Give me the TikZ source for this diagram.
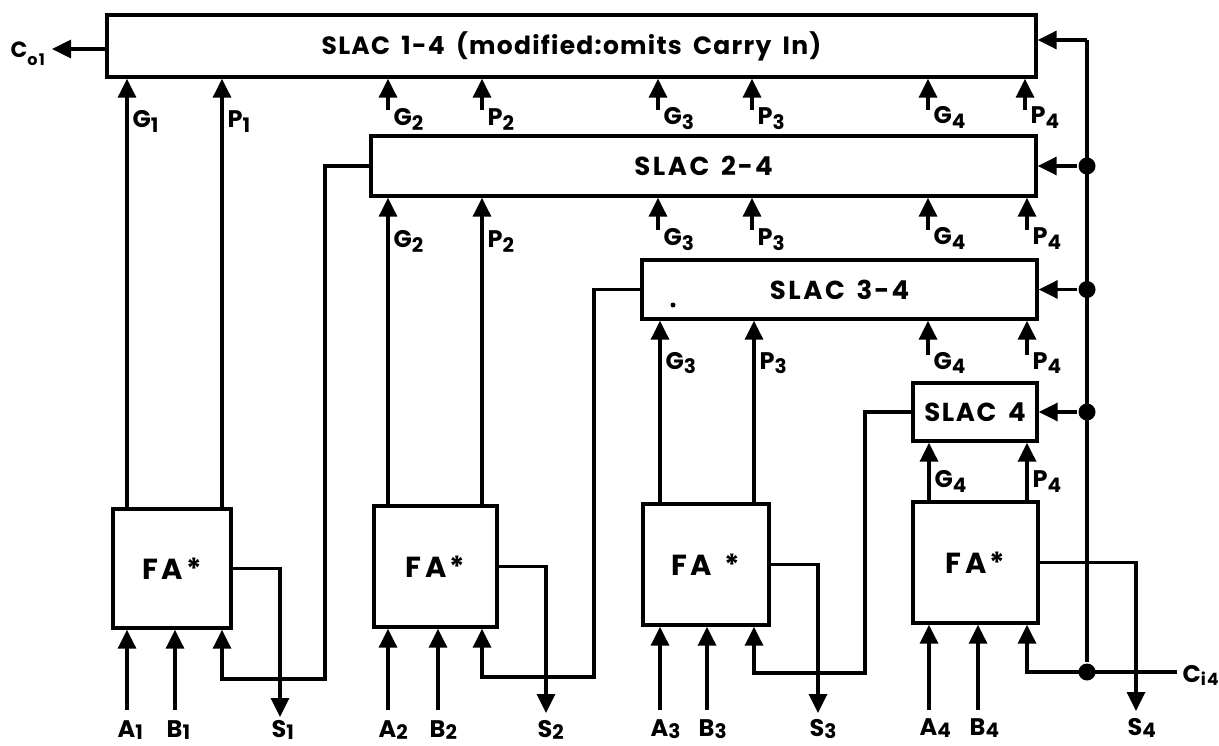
\documentclass[tikz,border=0pt]{standalone}
\usepackage{fontspec}
\setmainfont{Poppins}[LetterSpace=7]
\usetikzlibrary{arrows.meta}
\newcommand{\lsub}[2]{#1\raisebox{-5pt}{\fontsize{20}{20}\selectfont #2}}
\newcommand{\bsub}[2]{#1\raisebox{-2pt}{\fontsize{20}{20}\selectfont #2}}
\newcommand{\wide}[1]{\addfontfeature{LetterSpace=#1}\spaceskip=0.45em\relax}
\newcommand{\hy}{\kern2pt-\kern2pt}
\begin{document}
\begin{tikzpicture}[x=1pt,y=-1pt,line width=3.4pt,
  box/.style={draw,rectangle,line width=3.4pt,inner sep=0pt,font=\bfseries\fontsize{26}{26}\selectfont},
  fabox/.style={box,font=\bfseries\fontsize{29}{29}\selectfont\wide{11}},
  arr/.style={-{Triangle[length=19pt,width=18pt]}},
  junc/.style={circle,fill,inner sep=0pt,minimum size=17pt},
  lbl/.style={font=\bfseries\fontsize{24}{24}\selectfont,inner sep=0pt}]
\useasboundingbox (0,0) rectangle (1219,746);
% boxes
\node[box,minimum width=929pt,minimum height=62pt] (s14) at (571.5,46) {\fontsize{25}{25}\selectfont\wide{5}SLAC 1-4 (modified:omits Carry In)};
\node[box,minimum width=665pt,minimum height=60pt] (s24) at (703.5,166) {\wide{10}SLAC 2\hy4};
\node[box,minimum width=395pt,minimum height=59pt] (s34) at (839.5,289.5) {\wide{10}SLAC 3\hy4};
\node[box,minimum width=124pt,minimum height=58pt] (s4) at (975,412) {\wide{6}SLAC 4};
\node[fabox,minimum width=118pt,minimum height=119pt] (fa1) at (172,568.5) {FA*};
\node[fabox,minimum width=123pt,minimum height=121pt] (fa2) at (435.5,566.5) {FA*};
\node[fabox,minimum width=126pt,minimum height=121pt] (fa3) at (706,564.5) {FA *};
\node[fabox,minimum width=125pt,minimum height=121pt] (fa4) at (975.5,562.5) {FA*};
\fill (673,305) circle (2.5pt);
% coordinates
\coordinate (a1) at (127,710); \coordinate (b1) at (175,710);
\coordinate (a2) at (388,710); \coordinate (b2) at (438,710);
\coordinate (a3) at (660,710); \coordinate (b3) at (707,710);
\coordinate (a4) at (929,710); \coordinate (b4) at (978,710);
\coordinate (k1) at (325,679); \coordinate (c1) at (222,679);
\coordinate (k2) at (594,677); \coordinate (c2) at (482,677);
\coordinate (k3) at (865,673); \coordinate (c3) at (754,673);
\coordinate (c4) at (1027,672);
\coordinate (s1) at (280,717); \coordinate (s2) at (546,713);
\coordinate (s3) at (818,713); \coordinate (s4o) at (1136,711);
\coordinate (ci4) at (1177,672);
\coordinate (bustop) at (1087,40);
\coordinate (co1) at (52,49);
\node[junc] (j24) at (1087,166) {};
\node[junc] (j34) at (1087,289.5) {};
\node[junc] (j4) at (1087,412) {};
\node[junc] (jb) at (1087,672) {};
% stubs
\coordinate (t1) at (388,110); \coordinate (t2) at (482,110);
\coordinate (t3) at (658,110); \coordinate (t4) at (752,110);
\coordinate (t5) at (928,110); \coordinate (t6) at (1025,110);
\coordinate (u1) at (658,230); \coordinate (u2) at (752,230);
\coordinate (u3) at (928,230); \coordinate (u4) at (1027,230);
\coordinate (v1) at (928,355); \coordinate (v2) at (1027,355);
% carry out
\draw[arr] (s14.west |- co1) -- (co1);
\node[lbl,anchor=base west] (co1l) at (9,58) {\fontsize{22}{22}\selectfont C\raisebox{-8pt}{\fontsize{16}{16}\selectfont o1}};
% carry bus
\draw (jb) -- (bustop);
\draw[arr] (bustop) -- (bustop -| s14.east);
\draw[arr] (j24) -- (s24.east);
\draw[arr] (j34) -- (s34.east);
\draw[arr] (j4) -- (s4.east);
\draw[arr] (ci4) -- (c4) -- (c4 |- fa4.south);
\node[lbl,anchor=base west] (ci4l) at (1181,682) {C\raisebox{-3pt}{\fontsize{17}{17}\selectfont i4}};
% carries into FA1..FA3
\draw[arr] (s24.west) -| (k1) -- (c1) -- (c1 |- fa1.south);
\draw[arr] (s34.west) -| (k2) -- (c2) -- (c2 |- fa2.south);
\draw[arr] (s4.west) -| (k3) -- (c3) -- (c3 |- fa3.south);
% sums
\draw[arr] (fa1.east) -| (s1);
\draw[arr] (fa2.east) -| (s2);
\draw[arr] (fa3.east) -| (s3);
\draw[arr] (fa4.east) -| (s4o);
% A,B inputs
\foreach \p/\f in {a1/fa1,b1/fa1,a2/fa2,b2/fa2,a3/fa3,b3/fa3,a4/fa4,b4/fa4}
  \draw[arr] (\p) -- (\p |- \f.south);
% G,P long
\draw[arr] (fa1.north -| a1) -- (a1 |- s14.south);
\draw[arr] (fa1.north -| c1) -- (c1 |- s14.south);
\draw[arr] (fa2.north -| a2) -- (a2 |- s24.south);
\draw[arr] (fa2.north -| c2) -- (c2 |- s24.south);
\draw[arr] (fa3.north -| a3) -- (a3 |- s34.south);
\draw[arr] (fa3.north -| c3) -- (c3 |- s34.south);
\draw[arr] (fa4.north -| a4) -- (a4 |- s4.south);
\draw[arr] (fa4.north -| c4) -- (c4 |- s4.south);
% stubs
\foreach \t in {t1,t2,t3,t4,t5,t6} \draw[arr] (\t) -- (\t |- s14.south);
\foreach \t in {u1,u2,u3,u4} \draw[arr] (\t) -- (\t |- s24.south);
\foreach \t in {v1,v2} \draw[arr] (\t) -- (\t |- s34.south);
% labels under SLAC 1-4
\node[lbl,anchor=base west] (lg1) at (131,128) {\lsub{G}{1}};
\node[lbl,anchor=base west] (lp1) at (226,128) {\lsub{P}{1}};
\node[lbl,anchor=base west] (lg2a) at (392,126) {\lsub{G}{2}};
\node[lbl,anchor=base west] (lp2a) at (486,126) {\lsub{P}{2}};
\node[lbl,anchor=base west] (lg3a) at (662,125) {\lsub{G}{3}};
\node[lbl,anchor=base west] (lp3a) at (756,125) {\lsub{P}{3}};
\node[lbl,anchor=base west] (lg4a) at (932,124) {\lsub{G}{4}};
\node[lbl,anchor=base west] (lp4a) at (1029,124) {\lsub{P}{4}};
% labels under SLAC 2-4
\node[lbl,anchor=base west] (lg2b) at (392,248) {\lsub{G}{2}};
\node[lbl,anchor=base west] (lp2b) at (486,248) {\lsub{P}{2}};
\node[lbl,anchor=base west] (lg3b) at (662,246) {\lsub{G}{3}};
\node[lbl,anchor=base west] (lp3b) at (756,246) {\lsub{P}{3}};
\node[lbl,anchor=base west] (lg4b) at (932,245) {\lsub{G}{4}};
\node[lbl,anchor=base west] (lp4b) at (1031,245) {\lsub{P}{4}};
% labels under SLAC 3-4
\node[lbl,anchor=base west] (lg3c) at (664,369) {\lsub{G}{3}};
\node[lbl,anchor=base west] (lp3c) at (758,369) {\lsub{P}{3}};
\node[lbl,anchor=base west] (lg4c) at (932,369) {\lsub{G}{4}};
\node[lbl,anchor=base west] (lp4c) at (1031,369) {\lsub{P}{4}};
% labels under SLAC 4
\node[lbl,anchor=base west] (lg4d) at (933,487) {\lsub{G}{4}};
\node[lbl,anchor=base west] (lp4d) at (1031,487) {\lsub{P}{4}};
% bottom labels
\node[lbl,anchor=base west] (la1) at (116,737) {\bsub{A}{1}};
\node[lbl,anchor=base west] (lb1) at (165,737) {\bsub{B}{1}};
\node[lbl,anchor=base west] (ls1) at (270,737) {\bsub{S}{1}};
\node[lbl,anchor=base west] (la2) at (377,737) {\bsub{A}{2}};
\node[lbl,anchor=base west] (lb2) at (428,737) {\bsub{B}{2}};
\node[lbl,anchor=base west] (ls2) at (536,737) {\bsub{S}{2}};
\node[lbl,anchor=base west] (la3) at (649,736) {\bsub{A}{3}};
\node[lbl,anchor=base west] (lb3) at (697,736) {\bsub{B}{3}};
\node[lbl,anchor=base west] (ls3) at (808,736) {\bsub{S}{3}};
\node[lbl,anchor=base west] (la4) at (918,735) {\bsub{A}{4}};
\node[lbl,anchor=base west] (lb4) at (968,735) {\bsub{B}{4}};
\node[lbl,anchor=base west] (ls4) at (1126,735) {\bsub{S}{4}};
\end{tikzpicture}
\end{document}
